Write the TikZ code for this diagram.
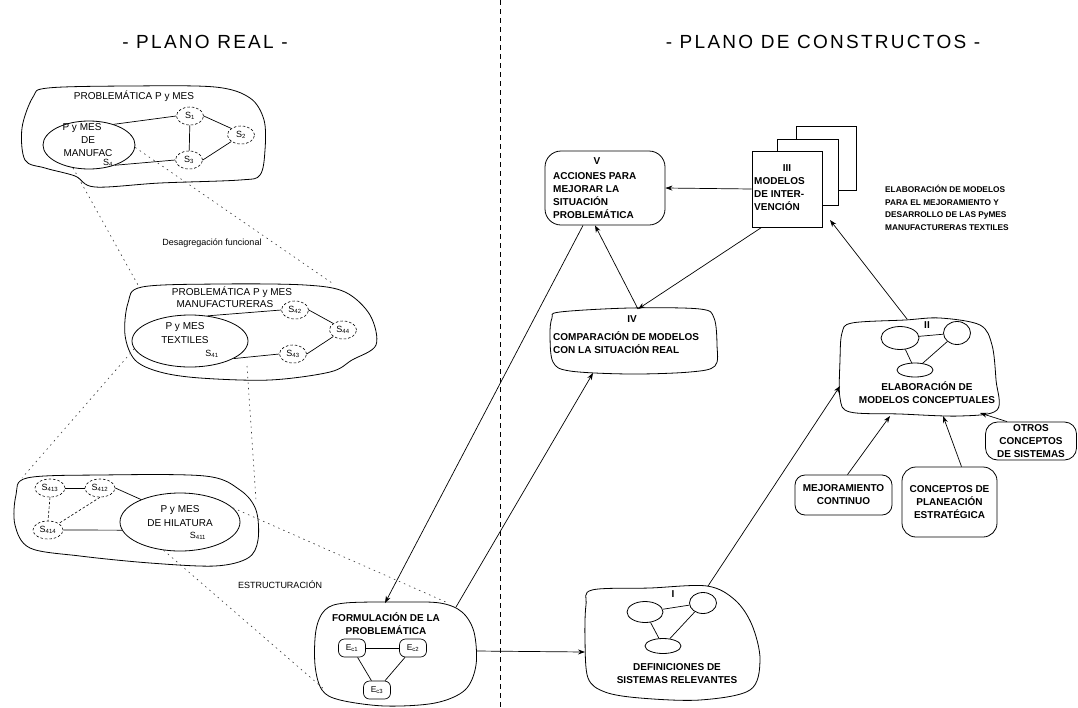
\documentclass[tikz,border=0pt]{standalone}
\usepackage{fontspec}
\setmainfont{Liberation Sans}
\usetikzlibrary{arrows.meta,shapes.geometric}
\newcommand\lsub[1]{\textsubscript{#1}}
\begin{document}
\begin{tikzpicture}[x=1pt,y=-1pt,
 title/.style={font=\fontsize{19}{22}\selectfont\addfontfeatures{LetterSpace=12}, inner sep=0pt},
 ltxt/.style={font=\fontsize{10}{12}\selectfont, inner sep=0pt},
 small/.style={font=\fontsize{9}{11}\selectfont, inner sep=0pt},
 btxt/.style={font=\bfseries\fontsize{10}{13}\selectfont, inner sep=0pt, align=left},
 ctxt/.style={font=\bfseries\fontsize{10}{13}\selectfont, inner sep=0pt, align=center},
 rtxt/.style={font=\bfseries\fontsize{8.3}{12.7}\selectfont, inner sep=0pt, align=left},
 sn/.style={ellipse, draw, dash pattern=on 2.5pt off 2pt, line width=.6pt, minimum width=27pt, minimum height=18pt, inner sep=0pt, font=\fontsize{9}{10}\selectfont},
 oval/.style={ellipse, draw, line width=.8pt, inner sep=0pt},
 ec/.style={draw, rounded corners=6pt, line width=.7pt, minimum width=27pt, minimum height=18pt, inner sep=1pt, font=\fontsize{8.5}{10}\selectfont},
 outline/.style={draw, line width=.8pt},
 link/.style={line width=.7pt},
 dlink/.style={line width=.6pt, dash pattern=on 2.5pt off 2pt},
 arr/.style={line width=.7pt, -{Stealth[length=7pt,width=5pt]}},
 proj/.style={line width=.6pt, dash pattern=on 1.5pt off 4pt, black!80},
 divider/.style={line width=1pt, dash pattern=on 5pt off 4pt},
 sheet/.style={draw, fill=white, line width=.8pt, inner sep=0pt},
 feeder/.style={draw, line width=.8pt, align=center, font=\bfseries\fontsize{10}{13}\selectfont, inner sep=2pt}
]
\useasboundingbox (0,0) rectangle (1078,707);
\fill[white] (0,0) rectangle (1078,707);

% divider and titles
\coordinate (dtop) at (500,0);
\coordinate (dbot) at (500,707);
\draw[divider] (dtop) -- (dbot);
\node[title] (t1) at (205,42) {- PLANO REAL -};
\node[title] (t2) at (823,42) {- PLANO DE CONSTRUCTOS -};

% ---------- top cloud ----------
\draw[outline] plot[smooth cycle, tension=.55] coordinates {(33,97) (48,88) (130,86) (215,87) (250,98) (264,120) (265,150) (260,175) (240,180) (160,183) (95,187) (75,176) (45,168) (25,160) (22,128)};
\node[ltxt] (c1t) at (134,96) {PROBLEMÁTICA P y MES};
\node[oval, minimum width=92pt, minimum height=48pt] (s4) at (89,145) {};
\node[ltxt] (s4a) at (82,128) {P y MES};
\node[ltxt] (s4b) at (88,140) {DE};
\node[ltxt] (s4c) at (88,153) {MANUFAC};
\node[small] (s4d) at (108,163) {S\lsub{4}};
\node[sn] (s1) at (190,116) {S\lsub{1}};
\node[sn] (s2) at (241,135) {S\lsub{2}};
\node[sn] (s3) at (189,160) {S\lsub{3}};
\draw[link] (s4.40) -- (s1.west);
\draw[link] (s1.east) -- (s2.north west);
\draw[link] (s1) -- (s3);
\draw[link] (s2.south west) -- (s3.east);
\draw[link] (s4.-38) -- (s3.west);

% projection lines top -> middle
\coordinate (mcTL) at (138,285);
\coordinate (mcTR) at (332,283);
\draw[proj] (s4.-125) -- (mcTL);
\draw[proj] (s4.-3) -- (mcTR);
\node[small] (desag) at (212,243) {Desagregación funcional};

% ---------- middle cloud ----------
\draw[outline] plot[smooth cycle, tension=.55] coordinates {(142,287) (220,284) (305,285) (345,292) (370,315) (376,345) (352,360) (330,372) (270,380) (200,378) (160,372) (135,360) (125,335) (128,303)};
\node[ltxt] (c2t) at (232,292) {PROBLEMÁTICA P y MES};
\node[ltxt] (c2u) at (225,304) {MANUFACTURERAS};
\node[oval, minimum width=116pt, minimum height=52pt] (tx) at (190,341) {};
\node[ltxt] (txa) at (185,327) {P y MES};
\node[ltxt] (txb) at (185,340) {TEXTILES};
\node[small] (txc) at (212,354) {S\lsub{41}};
\node[sn] (s42) at (295,310) {S\lsub{42}};
\node[sn] (s44) at (343,330) {S\lsub{44}};
\node[sn] (s43) at (293,354) {S\lsub{43}};
\draw[link] (tx.55) -- (s42.west);
\draw[link] (s42.east) -- (s44.north west);
\draw[link] (s44.south west) -- (s43.east);
\draw[link] (tx.-22) -- (s43.west);

% projection lines middle -> bottom
\coordinate (bcTL) at (22,478);
\coordinate (bcR) at (256,500);
\coordinate (txBR) at (247,366);
\draw[proj] (tx.188) -- (bcTL);
\draw[proj] (txBR) -- (bcR);

% ---------- bottom cloud ----------
\draw[outline] plot[smooth cycle, tension=.55] coordinates {(27,478) (100,475) (205,476) (240,490) (256,510) (258,540) (248,558) (215,566) (150,563) (80,556) (30,548) (15,525) (16,495)};
\node[oval, minimum width=120pt, minimum height=58pt] (hl) at (180,522) {};
\node[ltxt] (hla) at (180,510) {P y MES};
\node[ltxt] (hlb) at (180,523) {DE HILATURA};
\node[small] (hlc) at (198,536) {S\lsub{411}};
\node[sn, minimum width=30pt] (s413) at (50,488) {S\lsub{413}};
\node[sn, minimum width=30pt] (s412) at (100,488) {S\lsub{412}};
\node[sn, minimum width=30pt] (s414) at (48,530) {S\lsub{414}};
\draw[link] (s413.east) -- (s412.west);
\draw[dlink] (s413.south) -- (s414.north);
\draw[dlink] (s412.south) -- (s414.north east);
\draw[link] (s412.east) -- (hl.150);
\draw[link] (s414.east) -- (hl.188);

% projection lines bottom -> formulacion
\coordinate (fTR) at (448,603);
\coordinate (fBL) at (325,690);
\draw[proj] (hl.15) -- (fTR);
\draw[proj] (hl.-120) -- (fBL);
\node[small] (estr) at (280,585) {ESTRUCTURACIÓN};

% ---------- formulacion ----------
\draw[outline] plot[smooth cycle, tension=.55] coordinates {(345,603) (400,602) (440,603) (462,612) (474,632) (476,665) (465,690) (435,703) (385,706) (340,700) (322,690) (315,665) (316,630) (325,610)};
\node[ctxt] (ft) at (386,624) {FORMULACIÓN DE LA\\PROBLEMÁTICA};
\node[ec] (ec1) at (352,648) {E\lsub{c1}};
\node[ec] (ec2) at (413,648) {E\lsub{c2}};
\node[ec] (ec3) at (377,690) {E\lsub{c3}};
\draw[link] (ec1) -- (ec2);
\draw[link] (ec1) -- (ec3);
\draw[link] (ec2) -- (ec3);

% ---------- I definiciones ----------
\draw[outline] plot[smooth cycle, tension=.55] coordinates {(592,590) (650,588) (707,586) (735,600) (752,625) (760,660) (750,690) (700,700) (640,698) (605,692) (588,678) (585,640) (586,605)};
\node[btxt] (il) at (673,594) {I};
\node[oval, minimum width=36pt, minimum height=21pt] (iA) at (645,612) {};
\node[oval, minimum width=27pt, minimum height=21pt] (iB) at (703,603) {};
\node[oval, minimum width=36pt, minimum height=15pt] (iC) at (663,646) {};
\draw[link] (iA) -- (iB);
\draw[link] (iA) -- (iC);
\draw[link] (iB) -- (iC);
\node[ctxt] (it) at (677,674) {DEFINICIONES DE\\SISTEMAS RELEVANTES};

% ---------- II elaboracion ----------
\draw[outline] plot[smooth cycle, tension=.55] coordinates {(852,323) (905,320) (940,318) (980,325) (992,345) (996,380) (997,410) (960,416) (900,414) (850,412) (840,398) (840,360) (842,333)};
\node[btxt] (iil) at (927,325) {II};
\node[oval, minimum width=38pt, minimum height=23pt] (iiA) at (900,338) {};
\node[oval, minimum width=27pt, minimum height=23pt] (iiB) at (957,333) {};
\node[oval, minimum width=36pt, minimum height=14pt] (iiC) at (915,370) {};
\draw[link] (iiA) -- (iiB);
\draw[link] (iiA) -- (iiC);
\draw[link] (iiB) -- (iiC);
\node[ctxt] (iit) at (927,393) {ELABORACIÓN DE\\MODELOS CONCEPTUALES};

% feeders
\node[feeder, rounded corners=10pt, minimum width=97pt, minimum height=40pt] (mej) at (843.5,495) {MEJORAMIENTO\\CONTINUO};
\node[feeder, rounded corners=14pt, minimum width=95pt, minimum height=70pt] (plan) at (949.5,502) {CONCEPTOS DE\\PLANEACIÓN\\ESTRATÉGICA};
\node[feeder, rounded corners=12pt, minimum width=91pt, minimum height=38pt] (otros) at (1031,441) {OTROS\\CONCEPTOS\\DE SISTEMAS};

% ---------- III modelos ----------
\node[sheet, minimum width=60pt, minimum height=64pt] (iiiC) at (826,158) {};
\node[sheet, minimum width=61pt, minimum height=66pt] (iiiB) at (807.5,172) {};
\node[sheet, minimum width=70pt, minimum height=76pt] (iii) at (787,189) {};
\node[btxt] (iiil) at (787,168) {III};
\node[btxt, anchor=west] (iiit) at (754,194) {MODELOS\\DE INTER-\\VENCIÓN};
\node[rtxt, anchor=north west] (rt) at (885,185) {ELABORACIÓN DE MODELOS\\PARA  EL MEJORAMIENTO Y\\DESARROLLO DE LAS PyMES\\MANUFACTURERAS TEXTILES};

% ---------- V acciones ----------
\node[draw, line width=.8pt, rounded corners=16pt, minimum width=120pt, minimum height=74pt] (v) at (605,188) {};
\node[btxt] (vl) at (597,161) {V};
\node[btxt, anchor=north west] (vt) at (553,172) {ACCIONES PARA\\MEJORAR LA\\SITUACIÓN\\PROBLEMÁTICA};

% ---------- IV comparacion ----------
\draw[outline] plot[smooth cycle, tension=.55] coordinates {(560,312) (630,308) (700,309) (714,318) (717,345) (715,366) (690,372) (630,374) (570,371) (553,362) (550,335) (552,318)};
\node[btxt] (ivl) at (632,319) {IV};
\node[btxt, anchor=north west] (ivt) at (553,331) {COMPARACIÓN DE MODELOS\\CON LA SITUACIÓN REAL};

% ---------- connectors ----------
\coordinate (ivT) at (638,309);
\coordinate (ivB) at (593,373);
\coordinate (fT) at (385,603);
\coordinate (fR) at (476,651);
\coordinate (fR2) at (456,607);
\coordinate (iL) at (585,652);
\coordinate (iTR) at (708,586);
\coordinate (iiL) at (840,386);
\coordinate (iiT) at (907,319);
\coordinate (iiiBR) at (830,220);
\coordinate (iiB1) at (890,416);
\coordinate (iiB2) at (943,416);
\coordinate (iiB3) at (980,413);
\draw[arr] (iii.west) -- (v.east);
\draw[arr] ([xshift=10pt]iii.south west) -- (ivT);
\draw[arr] (ivT) -- ([xshift=-10pt]v.south);
\draw[arr] ([xshift=-22pt]v.south) -- (fT);
\draw[arr] (fR2) -- (ivB);
\draw[arr] (fR) -- (iL);
\draw[arr] (iTR) -- (iiL);
\draw[arr] (iiT) -- (iiiBR);
\draw[arr] ([xshift=4pt]mej.north) -- (iiB1);
\draw[arr] ([xshift=12pt]plan.north) -- (iiB2);
\draw[arr] ([xshift=-24pt]otros.north) -- (iiB3);
\end{tikzpicture}
\end{document}
